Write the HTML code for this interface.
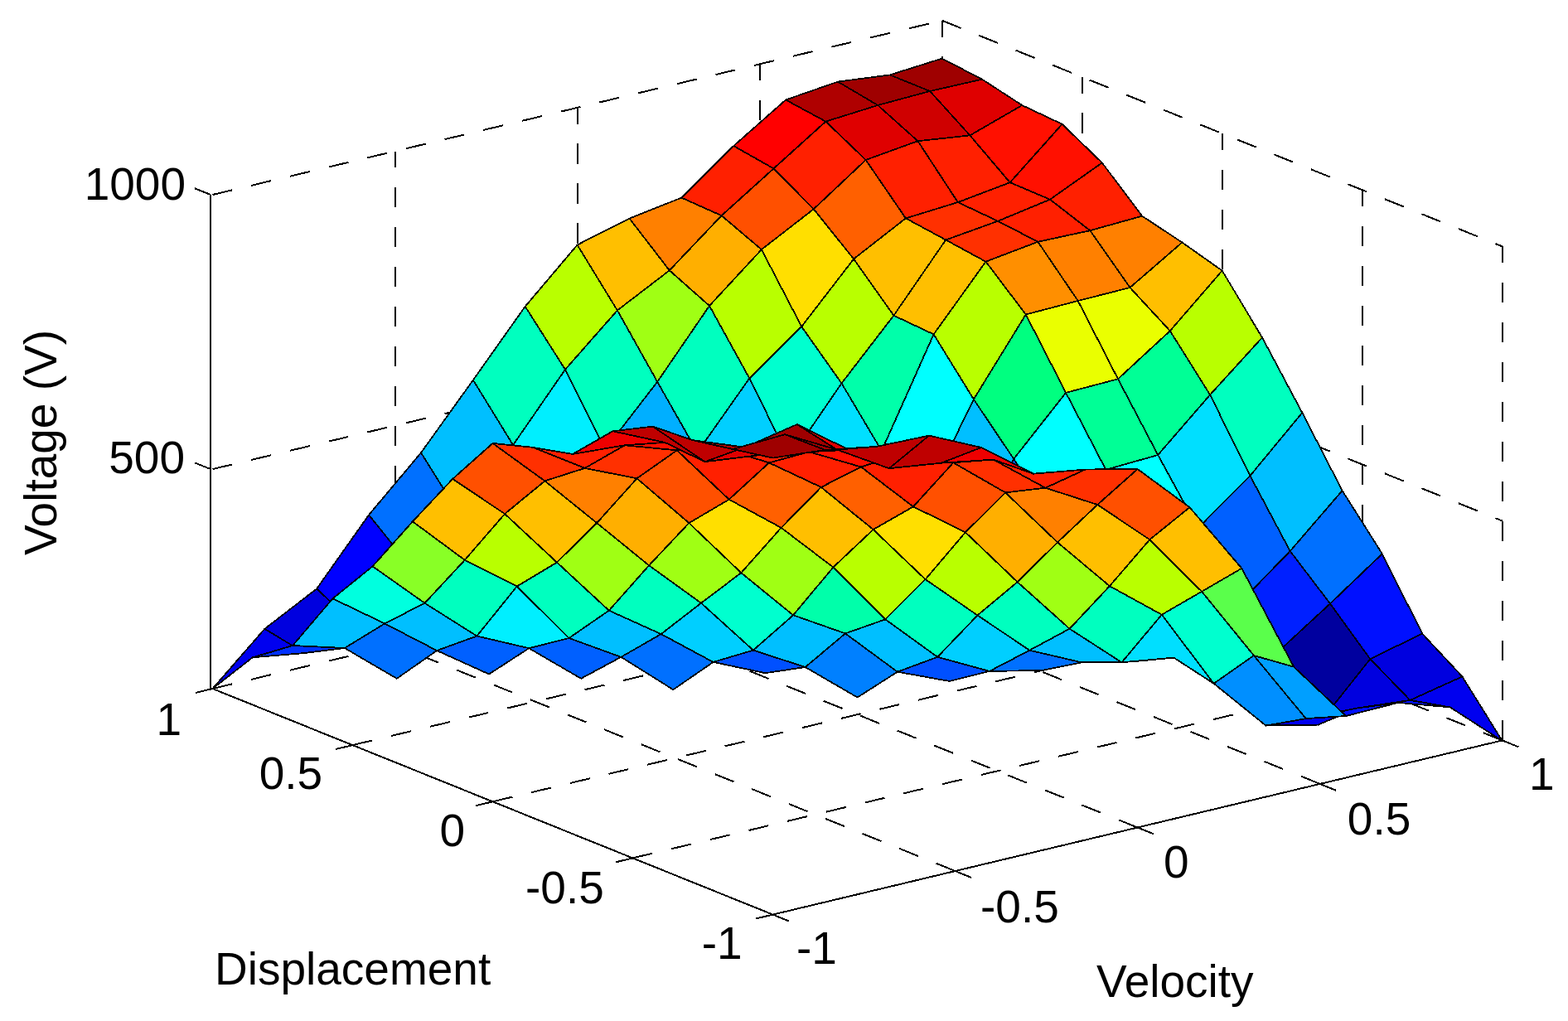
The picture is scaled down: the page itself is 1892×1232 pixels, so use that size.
<!DOCTYPE html><html><head><meta charset="utf-8"><style>html,body{margin:0;padding:0;background:#fff}svg{display:block}text{font-family:"Liberation Sans",Arial,sans-serif;fill:#000}</style></head><body>
<svg width="1892" height="1232" viewBox="0 0 1892 1232" shape-rendering="crispEdges">
<rect width="1892" height="1232" fill="#fff"/>
<g stroke-linecap="butt"><line x1="763.5" y1="1035.4" x2="1643.7" y2="825.2" stroke="#000" stroke-width="2" stroke-dasharray="24.5 23.5"/><line x1="594.5" y1="967.3" x2="1474.7" y2="757.1" stroke="#000" stroke-width="2" stroke-dasharray="24.5 23.5"/><line x1="425.5" y1="899.1" x2="1305.7" y2="688.9" stroke="#000" stroke-width="2" stroke-dasharray="24.5 23.5"/><line x1="256.5" y1="831.0" x2="1136.7" y2="620.8" stroke="#000" stroke-width="2" stroke-dasharray="24.5 23.5"/><line x1="1152.5" y1="1051.0" x2="476.6" y2="778.4" stroke="#000" stroke-width="2" stroke-dasharray="24.5 23.5"/><line x1="1372.6" y1="998.5" x2="696.6" y2="725.9" stroke="#000" stroke-width="2" stroke-dasharray="24.5 23.5"/><line x1="1592.7" y1="945.9" x2="916.7" y2="673.3" stroke="#000" stroke-width="2" stroke-dasharray="24.5 23.5"/><line x1="1812.7" y1="893.4" x2="1136.7" y2="620.8" stroke="#000" stroke-width="2" stroke-dasharray="24.5 23.5"/><line x1="476.6" y1="778.4" x2="476.6" y2="182.5" stroke="#000" stroke-width="2" stroke-dasharray="24.5 23.5"/><line x1="696.6" y1="725.9" x2="696.6" y2="129.9" stroke="#000" stroke-width="2" stroke-dasharray="24.5 23.5"/><line x1="916.7" y1="673.3" x2="916.7" y2="77.4" stroke="#000" stroke-width="2" stroke-dasharray="24.5 23.5"/><line x1="1136.7" y1="620.8" x2="1136.7" y2="24.8" stroke="#000" stroke-width="2" stroke-dasharray="24.5 23.5"/><line x1="1305.7" y1="688.9" x2="1305.7" y2="93.0" stroke="#000" stroke-width="2" stroke-dasharray="24.5 23.5"/><line x1="1474.7" y1="757.1" x2="1474.7" y2="161.1" stroke="#000" stroke-width="2" stroke-dasharray="24.5 23.5"/><line x1="1643.7" y1="825.2" x2="1643.7" y2="229.3" stroke="#000" stroke-width="2" stroke-dasharray="24.5 23.5"/><line x1="1812.7" y1="893.4" x2="1812.7" y2="297.4" stroke="#000" stroke-width="2" stroke-dasharray="24.5 23.5"/><line x1="256.5" y1="566.1" x2="1136.7" y2="355.9" stroke="#000" stroke-width="2" stroke-dasharray="24.5 23.5"/><line x1="1136.7" y1="355.9" x2="1812.7" y2="628.5" stroke="#000" stroke-width="2" stroke-dasharray="24.5 23.5"/><line x1="256.5" y1="235.0" x2="1136.7" y2="24.8" stroke="#000" stroke-width="2" stroke-dasharray="24.5 23.5"/><line x1="1136.7" y1="24.8" x2="1812.7" y2="297.4" stroke="#000" stroke-width="2" stroke-dasharray="24.5 23.5"/></g>
<g><line x1="256.5" y1="831.0" x2="932.5" y2="1103.6" stroke="#000" stroke-width="2"/><line x1="932.5" y1="1103.6" x2="1812.7" y2="893.4" stroke="#000" stroke-width="2"/><line x1="254.2" y1="831.0" x2="254.2" y2="235.0" stroke="#000" stroke-width="2"/><line x1="256.5" y1="831.0" x2="236.1" y2="835.9" stroke="#000" stroke-width="2"/><line x1="425.5" y1="899.1" x2="405.1" y2="904.0" stroke="#000" stroke-width="2"/><line x1="594.5" y1="967.3" x2="574.1" y2="972.2" stroke="#000" stroke-width="2"/><line x1="763.5" y1="1035.4" x2="743.1" y2="1040.3" stroke="#000" stroke-width="2"/><line x1="932.5" y1="1103.6" x2="912.1" y2="1108.5" stroke="#000" stroke-width="2"/><line x1="932.5" y1="1103.6" x2="952.0" y2="1111.5" stroke="#000" stroke-width="2"/><line x1="1152.5" y1="1051.0" x2="1172.0" y2="1058.9" stroke="#000" stroke-width="2"/><line x1="1372.6" y1="998.5" x2="1392.1" y2="1006.4" stroke="#000" stroke-width="2"/><line x1="1592.7" y1="945.9" x2="1612.1" y2="953.8" stroke="#000" stroke-width="2"/><line x1="1812.7" y1="893.4" x2="1832.2" y2="901.3" stroke="#000" stroke-width="2"/><line x1="254.2" y1="566.1" x2="234.7" y2="558.3" stroke="#000" stroke-width="2"/><line x1="254.2" y1="235.0" x2="234.7" y2="227.2" stroke="#000" stroke-width="2"/></g>
<g stroke="#000" stroke-width="1.8" stroke-linejoin="round"><polygon points="1122.1,110.0 1073.8,90.4 1136.7,70.6 1185.0,95.7" fill="#9f0000"/><polygon points="1059.2,127.0 1011.0,98.6 1073.8,90.4 1122.1,110.0" fill="#9f0000"/><polygon points="1170.4,163.4 1122.1,110.0 1185.0,95.7 1233.3,127.0" fill="#df0000"/><polygon points="996.4,146.6 948.1,120.5 1011.0,98.6 1059.2,127.0" fill="#af0000"/><polygon points="1107.5,170.2 1059.2,127.0 1122.1,110.0 1170.4,163.4" fill="#cf0000"/><polygon points="1218.7,220.2 1170.4,163.4 1233.3,127.0 1281.6,149.8" fill="#ff1000"/><polygon points="933.5,203.4 885.2,176.1 948.1,120.5 996.4,146.6" fill="#ff0000"/><polygon points="1044.7,193.0 996.4,146.6 1059.2,127.0 1107.5,170.2" fill="#df0000"/><polygon points="1155.8,244.1 1107.5,170.2 1170.4,163.4 1218.7,220.2" fill="#ff2000"/><polygon points="1267.0,240.7 1218.7,220.2 1281.6,149.8 1329.8,196.4" fill="#ff1000"/><polygon points="870.6,260.2 822.3,238.6 885.2,176.1 933.5,203.4" fill="#ff2000"/><polygon points="981.8,252.3 933.5,203.4 996.4,146.6 1044.7,193.0" fill="#ff2000"/><polygon points="1092.9,263.4 1044.7,193.0 1107.5,170.2 1155.8,244.1" fill="#ff2000"/><polygon points="1204.1,266.8 1155.8,244.1 1218.7,220.2 1267.0,240.7" fill="#ff2000"/><polygon points="807.8,326.3 759.5,263.6 822.3,238.6 870.6,260.2" fill="#ff8000"/><polygon points="1315.3,278.2 1267.0,240.7 1329.8,196.4 1378.1,260.7" fill="#ff2000"/><polygon points="918.9,301.1 870.6,260.2 933.5,203.4 981.8,252.3" fill="#ff5000"/><polygon points="1030.1,312.5 981.8,252.3 1044.7,193.0 1092.9,263.4" fill="#ff6000"/><polygon points="1141.2,289.5 1092.9,263.4 1155.8,244.1 1204.1,266.8" fill="#ff3000"/><polygon points="744.9,374.5 696.6,295.5 759.5,263.6 807.8,326.3" fill="#ffbf00"/><polygon points="1252.4,291.8 1204.1,266.8 1267.0,240.7 1315.3,278.2" fill="#ff2000"/><polygon points="856.0,369.0 807.8,326.3 870.6,260.2 918.9,301.1" fill="#ffaf00"/><polygon points="1363.5,347.0 1315.3,278.2 1378.1,260.7 1426.4,292.5" fill="#ff8000"/><polygon points="967.2,394.1 918.9,301.1 981.8,252.3 1030.1,312.5" fill="#ffdf00"/><polygon points="1078.4,380.7 1030.1,312.5 1092.9,263.4 1141.2,289.5" fill="#ffbf00"/><polygon points="682.0,445.9 633.7,369.8 696.6,295.5 744.9,374.5" fill="#b9ff00"/><polygon points="1189.5,315.7 1141.2,289.5 1204.1,266.8 1252.4,291.8" fill="#ff3000"/><polygon points="793.2,460.7 744.9,374.5 807.8,326.3 856.0,369.0" fill="#a0ff14"/><polygon points="1300.7,363.0 1252.4,291.8 1315.3,278.2 1363.5,347.0" fill="#ff8000"/><polygon points="904.3,456.5 856.0,369.0 918.9,301.1 967.2,394.1" fill="#b9ff00"/><polygon points="1411.8,399.3 1363.5,347.0 1426.4,292.5 1474.7,326.6" fill="#ffbf00"/><polygon points="1015.5,462.5 967.2,394.1 1030.1,312.5 1078.4,380.7" fill="#b9ff00"/><polygon points="619.1,537.0 570.9,458.6 633.7,369.8 682.0,445.9" fill="#00ffbf"/><polygon points="1126.6,403.4 1078.4,380.7 1141.2,289.5 1189.5,315.7" fill="#ffbf00"/><polygon points="730.3,542.2 682.0,445.9 744.9,374.5 793.2,460.7" fill="#00ffbf"/><polygon points="1237.8,379.5 1189.5,315.7 1252.4,291.8 1300.7,363.0" fill="#ff8f00"/><polygon points="841.5,545.7 793.2,460.7 856.0,369.0 904.3,456.5" fill="#00ffbf"/><polygon points="1349.0,457.3 1300.7,363.0 1363.5,347.0 1411.8,399.3" fill="#eaff00"/><polygon points="952.6,554.4 904.3,456.5 967.2,394.1 1015.5,462.5" fill="#00ffcf"/><polygon points="556.3,623.5 508.0,546.3 570.9,458.6 619.1,537.0" fill="#00bfff"/><polygon points="1460.1,476.4 1411.8,399.3 1474.7,326.6 1523.0,407.3" fill="#b9ff00"/><polygon points="1063.8,544.0 1015.5,462.5 1078.4,380.7 1126.6,403.4" fill="#00ffaa"/><polygon points="667.4,602.8 619.1,537.0 682.0,445.9 730.3,542.2" fill="#00efff"/><polygon points="1174.9,481.8 1126.6,403.4 1189.5,315.7 1237.8,379.5" fill="#b9ff00"/><polygon points="778.6,637.1 730.3,542.2 793.2,460.7 841.5,545.7" fill="#00afff"/><polygon points="1286.1,473.9 1237.8,379.5 1300.7,363.0 1349.0,457.3" fill="#eaff00"/><polygon points="889.7,628.3 841.5,545.7 904.3,456.5 952.6,554.4" fill="#00cfff"/><polygon points="493.4,681.6 445.1,621.3 508.0,546.3 556.3,623.5" fill="#0070ff"/><polygon points="1397.2,549.0 1349.0,457.3 1411.8,399.3 1460.1,476.4" fill="#00ff96"/><polygon points="1000.9,624.7 952.6,554.4 1015.5,462.5 1063.8,544.0" fill="#00dfff"/><polygon points="604.6,685.6 556.3,623.5 619.1,537.0 667.4,602.8" fill="#0070ff"/><polygon points="1508.4,574.1 1460.1,476.4 1523.0,407.3 1571.3,498.0" fill="#00ffbf"/><polygon points="1112.1,610.7 1063.8,544.0 1126.6,403.4 1174.9,481.8" fill="#00ffff"/><polygon points="715.7,691.9 667.4,602.8 730.3,542.2 778.6,637.1" fill="#0070ff"/><polygon points="1223.2,553.8 1174.9,481.8 1237.8,379.5 1286.1,473.9" fill="#00ff80"/><polygon points="826.9,704.9 778.6,637.1 841.5,545.7 889.7,628.3" fill="#0060ff"/><polygon points="430.5,756.2 382.2,710.4 445.1,621.3 493.4,681.6" fill="#0000ff"/><polygon points="1334.4,566.8 1286.1,473.9 1349.0,457.3 1397.2,549.0" fill="#00ff96"/><polygon points="938.0,696.3 889.7,628.3 952.6,554.4 1000.9,624.7" fill="#0070ff"/><polygon points="541.7,762.9 493.4,681.6 556.3,623.5 604.6,685.6" fill="#0000ff"/><polygon points="1445.5,637.3 1397.2,549.0 1460.1,476.4 1508.4,574.1" fill="#00dfff"/><polygon points="1049.2,683.6 1000.9,624.7 1063.8,544.0 1112.1,610.7" fill="#008fff"/><polygon points="652.8,763.2 604.6,685.6 667.4,602.8 715.7,691.9" fill="#0000ff"/><polygon points="1556.7,665.0 1508.4,574.1 1571.3,498.0 1619.6,592.0" fill="#00bfff"/><polygon points="1160.3,667.8 1112.1,610.7 1174.9,481.8 1223.2,553.8" fill="#00bfff"/><polygon points="764.0,780.9 715.7,691.9 778.6,637.1 826.9,704.9" fill="#0000ef"/><polygon points="367.7,788.0 319.4,758.8 382.2,710.4 430.5,756.2" fill="#0000df"/><polygon points="1271.5,628.0 1223.2,553.8 1286.1,473.9 1334.4,566.8" fill="#00ffff"/><polygon points="875.2,775.8 826.9,704.9 889.7,628.3 938.0,696.3" fill="#0000ff"/><polygon points="478.8,818.8 430.5,756.2 493.4,681.6 541.7,762.9" fill="#0000af"/><polygon points="1382.7,639.1 1334.4,566.8 1397.2,549.0 1445.5,637.3" fill="#00ffff"/><polygon points="986.3,763.2 938.0,696.3 1000.9,624.7 1049.2,683.6" fill="#0020ff"/><polygon points="590.0,813.5 541.7,762.9 604.6,685.6 652.8,763.2" fill="#0000bf"/><polygon points="1493.8,729.7 1445.5,637.3 1508.4,574.1 1556.7,665.0" fill="#0060ff"/><polygon points="1097.5,776.3 1049.2,683.6 1112.1,610.7 1160.3,667.8" fill="#0010ff"/><polygon points="701.1,818.8 652.8,763.2 715.7,691.9 764.0,780.9" fill="#0000bf"/><polygon points="304.8,793.3 256.5,831.0 319.4,758.8 367.7,788.0" fill="#0000ef"/><polygon points="1605.0,728.4 1556.7,665.0 1619.6,592.0 1667.8,668.2" fill="#0070ff"/><polygon points="1208.6,740.4 1160.3,667.8 1223.2,553.8 1271.5,628.0" fill="#0060ff"/><polygon points="812.3,832.2 764.0,780.9 826.9,704.9 875.2,775.8" fill="#0000af"/><polygon points="415.9,782.0 367.7,788.0 430.5,756.2 478.8,818.8" fill="#0010ff"/><polygon points="1319.8,739.4 1271.5,628.0 1334.4,566.8 1382.7,639.1" fill="#0060ff"/><polygon points="923.4,812.2 875.2,775.8 938.0,696.3 986.3,763.2" fill="#0000df"/><polygon points="527.1,785.0 478.8,818.8 541.7,762.9 590.0,813.5" fill="#0010ff"/><polygon points="1430.9,741.8 1382.7,639.1 1445.5,637.3 1493.8,729.7" fill="#0060ff"/><polygon points="1034.6,841.5 986.3,763.2 1049.2,683.6 1097.5,776.3" fill="#0000af"/><polygon points="638.3,782.2 590.0,813.5 652.8,763.2 701.1,818.8" fill="#0020ff"/><polygon points="1542.1,786.5 1493.8,729.7 1556.7,665.0 1605.0,728.4" fill="#0020ff"/><polygon points="1145.8,822.0 1097.5,776.3 1160.3,667.8 1208.6,740.4" fill="#0000df"/><polygon points="749.4,792.8 701.1,818.8 764.0,780.9 812.3,832.2" fill="#0010ff"/><polygon points="353.1,779.0 304.8,793.3 367.7,788.0 415.9,782.0" fill="#0030ff"/><polygon points="1653.3,795.2 1605.0,728.4 1667.8,668.2 1716.1,764.6" fill="#0010ff"/><polygon points="1256.9,809.0 1208.6,740.4 1271.5,628.0 1319.8,739.4" fill="#0000ff"/><polygon points="860.6,798.9 812.3,832.2 875.2,775.8 923.4,812.2" fill="#0010ff"/><polygon points="464.2,752.4 415.9,782.0 478.8,818.8 527.1,785.0" fill="#0070ff"/><polygon points="1368.1,798.2 1319.8,739.4 1382.7,639.1 1430.9,741.8" fill="#0020ff"/><polygon points="971.7,805.0 923.4,812.2 986.3,763.2 1034.6,841.5" fill="#0010ff"/><polygon points="575.4,767.5 527.1,785.0 590.0,813.5 638.3,782.2" fill="#0060ff"/><polygon points="1479.2,813.8 1430.9,741.8 1493.8,729.7 1542.1,786.5" fill="#0000ff"/><polygon points="1082.9,810.7 1034.6,841.5 1097.5,776.3 1145.8,822.0" fill="#0010ff"/><polygon points="686.5,770.0 638.3,782.2 701.1,818.8 749.4,792.8" fill="#0060ff"/><polygon points="1590.4,874.6 1542.1,786.5 1605.0,728.4 1653.3,795.2" fill="#00009f"/><polygon points="1194.0,809.9 1145.8,822.0 1208.6,740.4 1256.9,809.0" fill="#0010ff"/><polygon points="797.7,765.1 749.4,792.8 812.3,832.2 860.6,798.9" fill="#0070ff"/><polygon points="401.4,722.3 353.1,779.0 415.9,782.0 464.2,752.4" fill="#00bfff"/><polygon points="1701.5,844.9 1653.3,795.2 1716.1,764.6 1764.4,816.4" fill="#0000df"/><polygon points="1305.2,799.3 1256.9,809.0 1319.8,739.4 1368.1,798.2" fill="#0030ff"/><polygon points="908.9,784.6 860.6,798.9 923.4,812.2 971.7,805.0" fill="#0050ff"/><polygon points="512.5,727.8 464.2,752.4 527.1,785.0 575.4,767.5" fill="#00bfff"/><polygon points="1416.4,793.6 1368.1,798.2 1430.9,741.8 1479.2,813.8" fill="#0040ff"/><polygon points="1020.0,764.4 971.7,805.0 1034.6,841.5 1082.9,810.7" fill="#0080ff"/><polygon points="623.7,707.6 575.4,767.5 638.3,782.2 686.5,770.0" fill="#00efff"/><polygon points="1527.5,875.6 1479.2,813.8 1542.1,786.5 1590.4,874.6" fill="#0000af"/><polygon points="1131.2,792.8 1082.9,810.7 1145.8,822.0 1194.0,809.9" fill="#0050ff"/><polygon points="734.8,736.7 686.5,770.0 749.4,792.8 797.7,765.1" fill="#00bfff"/><polygon points="1638.7,854.3 1590.4,874.6 1653.3,795.2 1701.5,844.9" fill="#0000df"/><polygon points="1242.3,784.7 1194.0,809.9 1256.9,809.0 1305.2,799.3" fill="#0070ff"/><polygon points="846.0,727.7 797.7,765.1 860.6,798.9 908.9,784.6" fill="#00cfff"/><polygon points="449.6,683.4 401.4,722.3 464.2,752.4 512.5,727.8" fill="#00ffdf"/><polygon points="1749.8,853.4 1701.5,844.9 1764.4,816.4 1812.7,894.0" fill="#0000ef"/><polygon points="1353.5,799.3 1305.2,799.3 1368.1,798.2 1416.4,793.6" fill="#0060ff"/><polygon points="957.1,742.3 908.9,784.6 971.7,805.0 1020.0,764.4" fill="#00bfff"/><polygon points="560.8,675.8 512.5,727.8 575.4,767.5 623.7,707.6" fill="#00ffbf"/><polygon points="1464.6,824.8 1416.4,793.6 1479.2,813.8 1527.5,875.6" fill="#0030ff"/><polygon points="1068.3,747.4 1020.0,764.4 1082.9,810.7 1131.2,792.8" fill="#00bfff"/><polygon points="672.0,678.6 623.7,707.6 686.5,770.0 734.8,736.7" fill="#00ffbf"/><polygon points="1575.8,867.1 1527.5,875.6 1590.4,874.6 1638.7,854.3" fill="#0000ef"/><polygon points="1179.5,742.5 1131.2,792.8 1194.0,809.9 1242.3,784.7" fill="#00cfff"/><polygon points="783.1,682.3 734.8,736.7 797.7,765.1 846.0,727.7" fill="#00ffbf"/><polygon points="1687.0,847.9 1638.7,854.3 1701.5,844.9 1749.8,853.4" fill="#0010ff"/><polygon points="1290.6,758.7 1242.3,784.7 1305.2,799.3 1353.5,799.3" fill="#00bfff"/><polygon points="894.3,691.2 846.0,727.7 908.9,784.6 957.1,742.3" fill="#00ffcf"/><polygon points="497.9,629.3 449.6,683.4 512.5,727.8 560.8,675.8" fill="#89ff26"/><polygon points="1401.8,741.7 1353.5,799.3 1416.4,793.6 1464.6,824.8" fill="#00dfff"/><polygon points="1005.4,684.5 957.1,742.3 1020.0,764.4 1068.3,747.4" fill="#00ffaa"/><polygon points="609.1,620.1 560.8,675.8 623.7,707.6 672.0,678.6" fill="#b9ff00"/><polygon points="1512.9,791.0 1464.6,824.8 1527.5,875.6 1575.8,867.1" fill="#008fff"/><polygon points="1116.6,699.1 1068.3,747.4 1131.2,792.8 1179.5,742.5" fill="#00ffbf"/><polygon points="720.2,631.1 672.0,678.6 734.8,736.7 783.1,682.3" fill="#a0ff14"/><polygon points="1624.1,864.0 1575.8,867.1 1638.7,854.3 1687.0,847.9" fill="#0010ff"/><polygon points="1227.7,702.3 1179.5,742.5 1242.3,784.7 1290.6,758.7" fill="#00ffbf"/><polygon points="831.4,631.1 783.1,682.3 846.0,727.7 894.3,691.2" fill="#a0ff14"/><polygon points="1338.9,707.2 1290.6,758.7 1353.5,799.3 1401.8,741.7" fill="#00ffbf"/><polygon points="942.6,636.8 894.3,691.2 957.1,742.3 1005.4,684.5" fill="#a0ff14"/><polygon points="546.2,577.9 497.9,629.3 560.8,675.8 609.1,620.1" fill="#ffbf00"/><polygon points="1450.1,713.8 1401.8,741.7 1464.6,824.8 1512.9,791.0" fill="#00ffcf"/><polygon points="1053.7,639.0 1005.4,684.5 1068.3,747.4 1116.6,699.1" fill="#b9ff00"/><polygon points="657.4,580.4 609.1,620.1 672.0,678.6 720.2,631.1" fill="#ffbf00"/><polygon points="1561.2,804.7 1512.9,791.0 1575.8,867.1 1624.1,864.0" fill="#009fff"/><polygon points="1164.9,642.3 1116.6,699.1 1179.5,742.5 1227.7,702.3" fill="#b9ff00"/><polygon points="768.5,577.3 720.2,631.1 783.1,682.3 831.4,631.1" fill="#ffaf00"/><polygon points="1276.0,654.4 1227.7,702.3 1290.6,758.7 1338.9,707.2" fill="#a0ff14"/><polygon points="879.7,602.7 831.4,631.1 894.3,691.2 942.6,636.8" fill="#ffdf00"/><polygon points="1387.2,651.2 1338.9,707.2 1401.8,741.7 1450.1,713.8" fill="#b9ff00"/><polygon points="990.8,587.9 942.6,636.8 1005.4,684.5 1053.7,639.0" fill="#ffbf00"/><polygon points="594.5,534.9 546.2,577.9 609.1,620.1 657.4,580.4" fill="#ff5000"/><polygon points="1498.3,685.8 1450.1,713.8 1512.9,791.0 1561.2,804.7" fill="#5aff4b"/><polygon points="1102.0,611.4 1053.7,639.0 1116.6,699.1 1164.9,642.3" fill="#ffdf00"/><polygon points="705.7,564.9 657.4,580.4 720.2,631.1 768.5,577.3" fill="#ff8000"/><polygon points="1213.2,594.4 1164.9,642.3 1227.7,702.3 1276.0,654.4" fill="#ffaf00"/><polygon points="816.8,543.4 768.5,577.3 831.4,631.1 879.7,602.7" fill="#ff5000"/><polygon points="1324.3,609.0 1276.0,654.4 1338.9,707.2 1387.2,651.2" fill="#ffbf00"/><polygon points="928.0,558.4 879.7,602.7 942.6,636.8 990.8,587.9" fill="#ff6000"/><polygon points="1435.5,612.2 1387.2,651.2 1450.1,713.8 1498.3,685.8" fill="#ffbf00"/><polygon points="1039.1,563.5 990.8,587.9 1053.7,639.0 1102.0,611.4" fill="#ff6000"/><polygon points="642.8,539.8 594.5,534.9 657.4,580.4 705.7,564.9" fill="#ff3000"/><polygon points="1150.3,558.3 1102.0,611.4 1164.9,642.3 1213.2,594.4" fill="#ff5000"/><polygon points="753.9,537.3 705.7,564.9 768.5,577.3 816.8,543.4" fill="#ff3000"/><polygon points="1261.4,588.7 1213.2,594.4 1276.0,654.4 1324.3,609.0" fill="#ff8000"/><polygon points="865.1,538.8 816.8,543.4 879.7,602.7 928.0,558.4" fill="#ff2000"/><polygon points="1372.6,566.0 1324.3,609.0 1387.2,651.2 1435.5,612.2" fill="#ff5000"/><polygon points="976.3,545.2 928.0,558.4 990.8,587.9 1039.1,563.5" fill="#ff2000"/><polygon points="1087.4,547.7 1039.1,563.5 1102.0,611.4 1150.3,558.3" fill="#ff2000"/><polygon points="691.1,547.9 642.8,539.8 705.7,564.9 753.9,537.3" fill="#ff2000"/><polygon points="1198.6,554.6 1150.3,558.3 1213.2,594.4 1261.4,588.7" fill="#ff3000"/><polygon points="802.2,533.9 753.9,537.3 816.8,543.4 865.1,538.8" fill="#ff1000"/><polygon points="1309.7,566.5 1261.4,588.7 1324.3,609.0 1372.6,566.0" fill="#ff3000"/><polygon points="913.4,549.5 865.1,538.8 928.0,558.4 976.3,545.2" fill="#ff2000"/><polygon points="1024.5,542.8 976.3,545.2 1039.1,563.5 1087.4,547.7" fill="#ff1000"/><polygon points="1135.7,558.7 1087.4,547.7 1150.3,558.3 1198.6,554.6" fill="#ff2000"/><polygon points="739.4,520.3 691.1,547.9 753.9,537.3 802.2,533.9" fill="#ef0000"/><polygon points="1246.9,571.7 1198.6,554.6 1261.4,588.7 1309.7,566.5" fill="#ff2000"/><polygon points="850.5,557.2 802.2,533.9 865.1,538.8 913.4,549.5" fill="#ff1000"/><polygon points="961.7,512.1 913.4,549.5 976.3,545.2 1024.5,542.8" fill="#cf0000"/><polygon points="1072.8,565.2 1024.5,542.8 1087.4,547.7 1135.7,558.7" fill="#ff1000"/><polygon points="1184.0,540.0 1135.7,558.7 1198.6,554.6 1246.9,571.7" fill="#ef0000"/><polygon points="787.6,514.6 739.4,520.3 802.2,533.9 850.5,557.2" fill="#bf0000"/><polygon points="898.8,539.7 850.5,557.2 913.4,549.5 961.7,512.1" fill="#df0000"/><polygon points="1010.0,542.6 961.7,512.1 1024.5,542.8 1072.8,565.2" fill="#df0000"/><polygon points="1121.1,525.6 1072.8,565.2 1135.7,558.7 1184.0,540.0" fill="#bf0000"/><polygon points="835.9,531.2 787.6,514.6 850.5,557.2 898.8,539.7" fill="#bf0000"/><polygon points="947.1,524.2 898.8,539.7 961.7,512.1 1010.0,542.6" fill="#9f0000"/><polygon points="1058.2,538.8 1010.0,542.6 1072.8,565.2 1121.1,525.6" fill="#bf0000"/><polygon points="884.2,542.0 835.9,531.2 898.8,539.7 947.1,524.2" fill="#af0000"/><polygon points="995.4,542.9 947.1,524.2 1010.0,542.6 1058.2,538.8" fill="#9f0000"/><polygon points="932.5,552.6 884.2,542.0 947.1,524.2 995.4,542.9" fill="#9f0000"/></g>
<text x="224.0" y="240.7" font-size="55" text-anchor="end">1000</text><text x="223.0" y="570.7" font-size="55" text-anchor="end">500</text><text x="219.0" y="886.6" font-size="55" text-anchor="end">1</text><text x="389.2" y="951.6" font-size="55" text-anchor="end">0.5</text><text x="561.1" y="1021.1" font-size="55" text-anchor="end">0</text><text x="728.8" y="1089.6" font-size="55" text-anchor="end">-0.5</text><text x="895.7" y="1156.8" font-size="55" text-anchor="end">-1</text><text x="961.0" y="1163.0" font-size="55" text-anchor="start">-1</text><text x="1183.0" y="1113.0" font-size="55" text-anchor="start">-0.5</text><text x="1404.0" y="1059.0" font-size="55" text-anchor="start">0</text><text x="1625.8" y="1006.5" font-size="55" text-anchor="start">0.5</text><text x="1845.0" y="953.2" font-size="55" text-anchor="start">1</text><text x="259.0" y="1188.0" font-size="55" text-anchor="start">Displacement</text><text x="1323.0" y="1202.6" font-size="55" text-anchor="start">Velocity</text><text x="67.5" y="534" font-size="55" text-anchor="middle" transform="rotate(-90 67.5 534)">Voltage (V)</text>
</svg></body></html>
